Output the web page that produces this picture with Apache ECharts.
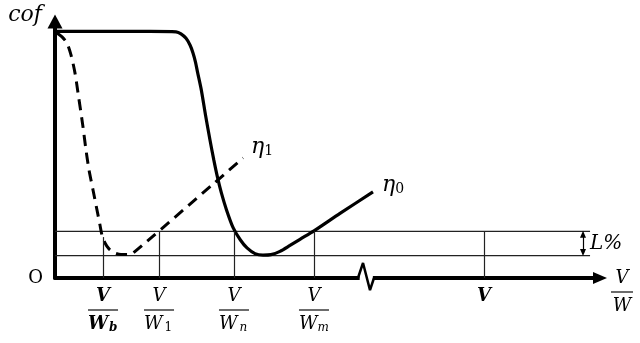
<!DOCTYPE html>
<html><head><meta charset="utf-8">
<script src="https://cdn.jsdelivr.net/npm/echarts@6/dist/echarts.min.js"></script>
<style>html,body{margin:0;padding:0;background:#fff}#c{width:640px;height:343px}</style>
</head><body><div id="c"></div>
<script>
// ---- data (schematic units: x = V/W, y = cof) ----
const tickX = [8.68, 18.8, 32.35, 46.81, 77.53];
const tickNames = ['Wb', 'W1', 'Wn', 'Wm', 'V'];
const guideTopY = [0.166, 0.189, 0.189, 0.189, 0.189];
const bandUpper = 0.189;
const bandLower = 0.091;
const bandEnd = 96.7;
const lArrowX = 95.43;

const eta0X = [0.36, 8.13, 17.17, 21.87, 22.77, 23.68, 24.4, 24.94, 25.39, 25.75, 26.44, 27.2, 28.01, 28.7, 29.35, 30.07, 31.0, 32.21, 33.51, 34.7, 36.15, 37.59, 39.04, 40.66, 42.47, 44.28, 46.81, 51.51, 57.47];
const eta0Y = [1.0, 1.0, 1.0, 0.998, 0.99, 0.972, 0.945, 0.913, 0.876, 0.836, 0.763, 0.661, 0.56, 0.479, 0.41, 0.345, 0.276, 0.203, 0.154, 0.122, 0.099, 0.093, 0.095, 0.108, 0.132, 0.157, 0.191, 0.262, 0.349];

const eta1X = [0.36, 1.27, 2.17, 2.89, 3.61, 4.16, 5.06, 5.6, 6.15, 6.87, 7.59, 8.13, 8.49, 9.04, 9.76, 10.84, 11.93, 13.01, 14.1, 33.98];
const eta1Y = [0.994, 0.978, 0.953, 0.905, 0.832, 0.751, 0.613, 0.519, 0.438, 0.357, 0.276, 0.215, 0.174, 0.142, 0.118, 0.101, 0.095, 0.095, 0.101, 0.487];

const breakX = [54.76, 55.67, 56.93, 57.65];
const breakY = [0, 0.061, -0.049, 0];

const zip = (a, b) => a.map((v, i) => [v, b[i]]);

const serif = 'DejaVu Serif';
const base = {fontFamily: serif, fontStyle: 'italic', fontSize: 18, lineHeight: 28, color: '#000', align: 'center'};
const sub = {fontFamily: serif, fontSize: 12, color: '#000', verticalAlign: 'middle', padding: [8, 0, 0, 0]};
const rich = {
  v:  Object.assign({}, base),
  vb: Object.assign({}, base, {fontWeight: 'bold'}),
  w:  Object.assign({}, base, {align: 'left'}),
  wb: Object.assign({}, base, {fontWeight: 'bold', align: 'left'}),
  s:  Object.assign({}, sub),
  si: Object.assign({}, sub, {fontStyle: 'italic'}),
  sb: Object.assign({}, sub, {fontStyle: 'italic', fontWeight: 'bold'}),
  hr: {borderColor: '#000', borderWidth: 0.7, width: 30, height: 0, align: 'center'},
  hr2: {borderColor: '#000', borderWidth: 0.7, width: 22, height: 0, align: 'center'}
};
function fracLabel(name) {
  switch (name) {
    case 'Wb': return '{vb|V}\n{hr|}\n{wb|W}{sb|b}';
    case 'W1': return '{v|V}\n{hr|}\n{w|W}{s|1}';
    case 'Wn': return '{v|V}\n{hr|}\n{w|W}{si|n}';
    case 'Wm': return '{v|V}\n{hr|}\n{w|W}{si|m}';
    default: return '{vb|V}';
  }
}

const etaRich = {
  e: {fontFamily: serif, fontStyle: 'italic', fontSize: 22, lineHeight: 28, color: '#000'},
  s: {fontFamily: serif, fontSize: 14, color: '#000', verticalAlign: 'middle', padding: [9, 0, 0, 0]}
};

const chart = echarts.init(document.getElementById('c'));
chart.setOption({
  animation: false,
  backgroundColor: '#fff',
  grid: {left: 55, right: 40, top: 21.6, bottom: 65},
  xAxis: {
    type: 'value', min: 0, max: 98.5,
    axisLine: {show: true, onZero: true, symbol: ['none', 'triangle'], symbolSize: [12, 14], lineStyle: {color: '#000', width: 4}},
    axisTick: {show: false},
    splitLine: {show: false},
    axisLabel: {
      customValues: tickX, margin: 4,
      formatter: function (v) {
        let best = 0;
        tickX.forEach((t, i) => { if (Math.abs(t - v) < Math.abs(tickX[best] - v)) best = i; });
        return fracLabel(tickNames[best]);
      },
      rich: rich
    },
    name: '{v|V}\n{hr2|}\n{v|W}', nameLocation: 'end', nameGap: 11,
    nameTextStyle: {rich: rich, padding: [28, 0, 0, 0]}
  },
  yAxis: {
    type: 'value', min: 0, max: 1.04,
    axisLine: {show: true, onZero: true, symbol: ['none', 'triangle'], symbolSize: [15, 14], lineStyle: {color: '#000', width: 4}},
    axisTick: {show: false},
    splitLine: {show: false},
    axisLabel: {customValues: [0], formatter: () => 'O', margin: 12, fontFamily: serif, fontSize: 18, color: '#000', padding: [7, 0, 0, 0]},
    name: 'cof', nameLocation: 'end', nameGap: 6,
    nameTextStyle: {fontFamily: serif, fontStyle: 'italic', fontSize: 22, color: '#000', align: 'right', verticalAlign: 'middle', padding: [0, 13, 0, 0]}
  },
  series: [
    {
      type: 'line', name: 'bandUpper', symbol: 'none', silent: true,
      data: [[0, bandUpper], [bandEnd, bandUpper]],
      lineStyle: {color: '#222', width: 1.2},
      markLine: {
        silent: true, symbol: 'none', label: {show: false},
        lineStyle: {type: 'solid', color: '#222', width: 1.2},
        data: tickX.map((x, i) => [{coord: [x, guideTopY[i]]}, {coord: [x, 0]}])
      }
    },
    {
      type: 'line', name: 'bandLower', symbol: 'none', silent: true,
      data: [[0, bandLower], [bandEnd, bandLower]],
      lineStyle: {color: '#222', width: 1.2},
      markLine: {
        silent: true, symbol: ['triangle', 'triangle'], symbolSize: [6, 7], label: {show: false},
        lineStyle: {type: 'solid', color: '#000', width: 1.2},
        data: [[{coord: [lArrowX, bandUpper - 0.012]}, {coord: [lArrowX, bandLower + 0.012]}]]
      },
      markPoint: {
        silent: true, symbol: 'circle', symbolSize: 0,
        data: [{coord: [lArrowX, (bandUpper + bandLower) / 2]}],
        label: {show: true, position: 'right', distance: 7, formatter: 'L%', fontFamily: serif, fontStyle: 'italic', fontSize: 20, color: '#000'}
      }
    },
    {
      type: 'line', name: 'η1', symbol: 'none', smooth: 0.25,
      data: zip(eta1X, eta1Y),
      lineStyle: {color: '#000', width: 3, type: [11, 7]},
      endLabel: {show: true, formatter: '{e|η}{s|1}', rich: etaRich, distance: 8, offset: [0, -11]}
    },
    {
      type: 'line', name: 'η0', symbol: 'none', smooth: 0.25,
      data: zip(eta0X, eta0Y),
      lineStyle: {color: '#000', width: 3.2},
      endLabel: {show: true, formatter: '{e|η}{s|0}', rich: etaRich, distance: 9, offset: [0, -7]}
    },
    {
      type: 'line', name: 'breakCover', symbol: 'none', silent: true, clip: false,
      data: [[breakX[0] + 0.3, 0], [breakX[3] - 0.2, 0]],
      lineStyle: {color: '#fff', width: 8}
    },
    {
      type: 'line', name: 'break', symbol: 'none', silent: true, clip: false,
      data: zip(breakX, breakY),
      lineStyle: {color: '#000', width: 2.5}
    }
  ]
});
</script>
</body></html>
